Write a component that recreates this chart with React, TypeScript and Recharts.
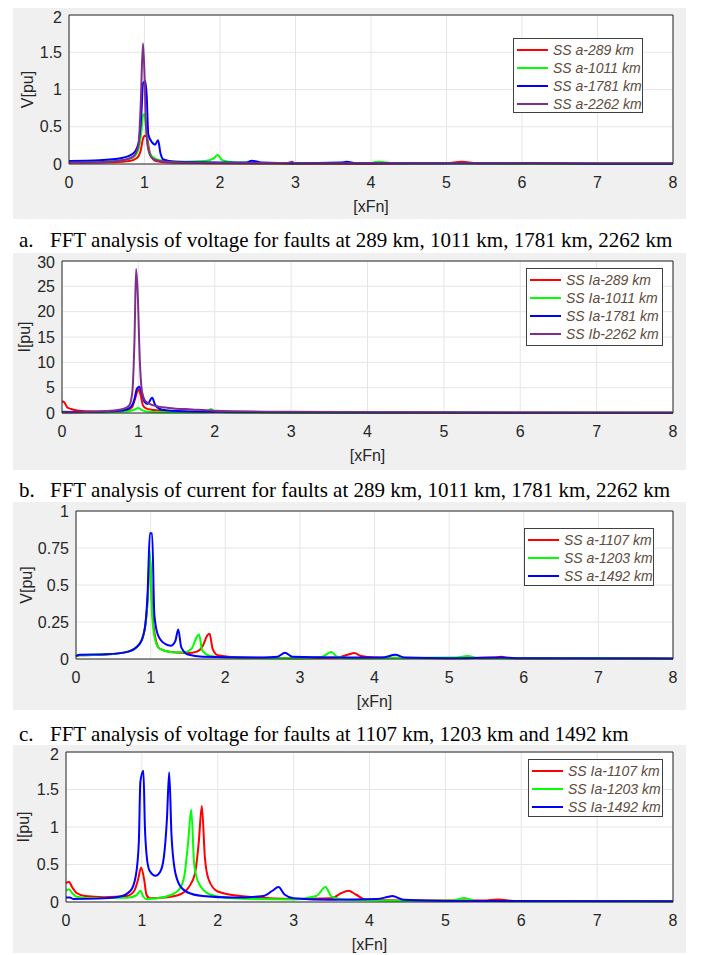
import React from "react";
import {
  LineChart,
  Line,
  XAxis,
  YAxis,
  CartesianGrid,
  Legend,
  ReferenceLine,
} from "recharts";

// x axis is shared by all four panels
const X_TICKS = [0, 1, 2, 3, 4, 5, 6, 7, 8];

const RED = "#ff0000";
const GREEN = "#00ff00";
const BLUE = "#0000ff";
const PURPLE = "#7e2f8e";

// a. voltage, faults at 289 / 1011 / 1781 / 2262 km
const A_NAMES = ["SS a-289 km", "SS a-1011 km", "SS a-1781 km", "SS a-2262 km"];
const A_Y_TICKS = [0, 0.5, 1, 1.5, 2];
const aRed = [[0, 0.02], [0.3, 0.02], [0.6, 0.025], [0.8, 0.04], [0.9, 0.08], [0.95, 0.18], [0.98, 0.34], [1.0, 0.38], [1.03, 0.37], [1.06, 0.2], [1.1, 0.08], [1.15, 0.04], [1.3, 0.02], [2, 0.01], [3, 0.005], [4, 0.005], [5, 0.01], [5.2, 0.03], [5.4, 0.01], [6, 0.005], [8, 0.005]];
const aGreen = [[0, 0.03], [0.4, 0.035], [0.7, 0.05], [0.85, 0.09], [0.92, 0.2], [0.96, 0.45], [0.98, 0.65], [1.0, 0.67], [1.02, 0.5], [1.05, 0.2], [1.1, 0.1], [1.2, 0.05], [1.5, 0.03], [1.8, 0.04], [1.92, 0.08], [1.97, 0.12], [2.03, 0.05], [2.2, 0.02], [3, 0.01], [4.0, 0.015], [4.1, 0.03], [4.3, 0.01], [5, 0.01], [6, 0.005], [8, 0.005]];
const aBlue = [[0, 0.04], [0.4, 0.05], [0.7, 0.08], [0.85, 0.14], [0.92, 0.28], [0.96, 0.7], [0.98, 1.08], [1.01, 1.11], [1.03, 0.9], [1.05, 0.4], [1.1, 0.29], [1.14, 0.26], [1.18, 0.32], [1.21, 0.15], [1.25, 0.06], [1.4, 0.03], [2, 0.02], [2.35, 0.02], [2.42, 0.045], [2.55, 0.02], [3, 0.01], [3.6, 0.02], [3.68, 0.03], [3.8, 0.01], [5, 0.01], [6.1, 0.012], [7, 0.005], [8, 0.005]];
const aPurple = [[0, 0.02], [0.4, 0.025], [0.7, 0.05], [0.85, 0.1], [0.92, 0.25], [0.95, 0.8], [0.98, 1.62], [1.0, 1.2], [1.02, 0.5], [1.05, 0.2], [1.1, 0.08], [1.2, 0.04], [1.5, 0.02], [2, 0.015], [2.9, 0.015], [2.95, 0.03], [3.0, 0.01], [5, 0.01], [8, 0.01]];

// b. current, same faults
const B_NAMES = ["SS Ia-289 km", "SS Ia-1011 km", "SS Ia-1781 km", "SS Ib-2262 km"];
const B_Y_TICKS = [0, 5, 10, 15, 20, 25, 30];
const bRed = [[0, 2.3], [0.03, 2.1], [0.07, 1.1], [0.12, 0.8], [0.2, 0.5], [0.4, 0.3], [0.7, 0.3], [0.85, 0.5], [0.92, 1.2], [0.96, 3], [1.0, 4.7], [1.03, 3.5], [1.06, 1.5], [1.1, 0.9], [1.2, 0.6], [1.4, 0.35], [2, 0.2], [3, 0.1], [5, 0.05], [8, 0.05]];
const bGreen = [[0, 0.3], [0.1, 0.2], [0.5, 0.15], [0.85, 0.3], [0.95, 0.7], [1.0, 1.0], [1.04, 0.6], [1.1, 0.3], [1.3, 0.15], [1.9, 0.15], [1.95, 0.8], [2.0, 0.25], [2.4, 0.1], [3, 0.05], [8, 0.03]];
const bBlue = [[0, 0.2], [0.5, 0.25], [0.8, 0.5], [0.9, 1.2], [0.95, 2.8], [0.98, 4.8], [1.01, 5.2], [1.04, 4.2], [1.08, 2.2], [1.12, 1.8], [1.18, 3.0], [1.22, 1.6], [1.3, 0.7], [1.5, 0.4], [2, 0.25], [3, 0.15], [5, 0.08], [8, 0.05]];
const bPurple = [[0, 0.1], [0.3, 0.2], [0.6, 0.4], [0.8, 0.8], [0.88, 1.5], [0.92, 4], [0.95, 15], [0.97, 28.4], [0.99, 24], [1.02, 10], [1.05, 4], [1.1, 2.2], [1.2, 1.5], [1.4, 1.0], [1.7, 0.7], [2, 0.45], [3, 0.25], [5, 0.12], [8, 0.05]];

// c. voltage, faults at 1107 / 1203 / 1492 km
const C_NAMES = ["SS a-1107 km", "SS a-1203 km", "SS a-1492 km"];
const C_Y_TICKS = [0, 0.25, 0.5, 0.75, 1];
const cRed = [[0, 0.02], [0.05, 0.025], [0.4, 0.03], [0.7, 0.05], [0.85, 0.1], [0.92, 0.2], [0.96, 0.4], [0.99, 0.7], [1.02, 0.35], [1.06, 0.15], [1.12, 0.07], [1.3, 0.045], [1.5, 0.04], [1.62, 0.05], [1.7, 0.09], [1.76, 0.16], [1.79, 0.17], [1.83, 0.07], [1.9, 0.025], [2.2, 0.01], [3, 0.005], [3.5, 0.01], [3.65, 0.03], [3.73, 0.04], [3.82, 0.02], [4, 0.01], [5, 0.005], [5.6, 0.01], [5.7, 0.015], [5.8, 0.005], [7.5, 0.005], [8, 0.002]];
const cGreen = [[0, 0.02], [0.05, 0.025], [0.4, 0.03], [0.7, 0.05], [0.85, 0.1], [0.92, 0.2], [0.96, 0.4], [0.99, 0.73], [1.02, 0.3], [1.06, 0.13], [1.12, 0.07], [1.3, 0.045], [1.45, 0.045], [1.55, 0.07], [1.62, 0.15], [1.65, 0.165], [1.69, 0.06], [1.8, 0.02], [2, 0.01], [3, 0.005], [3.3, 0.015], [3.42, 0.048], [3.5, 0.015], [3.7, 0.005], [5.1, 0.01], [5.25, 0.02], [5.4, 0.005], [7, 0.005], [8, 0.002]];
const cBlue = [[0, 0.02], [0.05, 0.028], [0.4, 0.032], [0.7, 0.05], [0.85, 0.1], [0.92, 0.2], [0.96, 0.45], [0.99, 0.85], [1.02, 0.85], [1.05, 0.3], [1.1, 0.16], [1.2, 0.1], [1.27, 0.09], [1.33, 0.12], [1.37, 0.2], [1.41, 0.08], [1.5, 0.03], [1.7, 0.015], [2.5, 0.01], [2.7, 0.015], [2.8, 0.042], [2.9, 0.015], [3.5, 0.01], [4.1, 0.01], [4.28, 0.028], [4.4, 0.01], [5, 0.005], [5.7, 0.01], [6, 0.005], [8, 0.003]];

// d. current, faults at 1107 / 1203 / 1492 km
const D_NAMES = ["SS Ia-1107 km", "SS Ia-1203 km", "SS Ia-1492 km"];
const D_Y_TICKS = [0, 0.5, 1, 1.5, 2];
const dRed = [[0, 0.25], [0.04, 0.27], [0.08, 0.2], [0.14, 0.12], [0.25, 0.08], [0.5, 0.065], [0.8, 0.08], [0.9, 0.15], [0.95, 0.3], [0.99, 0.46], [1.03, 0.3], [1.06, 0.1], [1.1, 0.05], [1.3, 0.06], [1.5, 0.1], [1.62, 0.2], [1.7, 0.38], [1.75, 0.8], [1.79, 1.28], [1.83, 0.6], [1.88, 0.3], [2, 0.14], [2.3, 0.08], [3, 0.04], [3.5, 0.05], [3.63, 0.12], [3.72, 0.15], [3.82, 0.1], [3.95, 0.03], [4.5, 0.02], [5.5, 0.02], [5.7, 0.035], [5.9, 0.015], [7.5, 0.012], [8, 0.01]];
const dGreen = [[0, 0.15], [0.04, 0.17], [0.08, 0.12], [0.14, 0.07], [0.3, 0.05], [0.8, 0.055], [0.93, 0.09], [0.98, 0.15], [1.02, 0.07], [1.06, 0.04], [1.2, 0.05], [1.4, 0.1], [1.5, 0.18], [1.56, 0.35], [1.61, 0.8], [1.65, 1.23], [1.69, 0.5], [1.75, 0.25], [1.9, 0.1], [2.2, 0.05], [3, 0.035], [3.3, 0.08], [3.42, 0.2], [3.5, 0.07], [3.7, 0.03], [4.5, 0.015], [5.1, 0.02], [5.25, 0.055], [5.4, 0.015], [6, 0.01], [8, 0.01]];
const dBlue = [[0, 0.06], [0.05, 0.06], [0.1, 0.04], [0.4, 0.045], [0.7, 0.07], [0.85, 0.15], [0.92, 0.35], [0.96, 0.8], [0.98, 1.6], [1.02, 1.75], [1.04, 1.0], [1.06, 0.65], [1.1, 0.42], [1.18, 0.35], [1.24, 0.4], [1.29, 0.6], [1.33, 1.1], [1.36, 1.73], [1.39, 0.9], [1.43, 0.45], [1.5, 0.22], [1.6, 0.13], [1.8, 0.08], [2.2, 0.06], [2.6, 0.08], [2.72, 0.15], [2.8, 0.2], [2.88, 0.1], [3, 0.05], [3.5, 0.03], [4.1, 0.04], [4.25, 0.07], [4.3, 0.08], [4.45, 0.03], [5, 0.015], [8, 0.01]];

const FONT = "'Liberation Sans', Arial, Helvetica, sans-serif";
const AXIS = "#262626";
const GREY_LEFT = 13;
const GREY_RIGHT = 686;
const PLOT_RIGHT = 673;

type Series = { name: string; color: string; data: number[][] };

const toPoints = (arr: number[][]) => arr.map(([x, y]) => ({ x, y }));

function LegendBox({ series }: { series: Series[] }) {
  return (
    <div
      style={{
        border: "1px solid #404040",
        background: "#fff",
        boxSizing: "border-box",
        width: "100%",
        height: "100%",
        paddingTop: 2,
      }}
    >
      {series.map((s) => (
        <div key={s.name} style={{ display: "flex", alignItems: "center", height: 18 }}>
          <div style={{ width: 31, height: 2, background: s.color, marginLeft: 3, marginRight: 5 }} />
          <span
            style={{
              fontFamily: FONT,
              fontStyle: "italic",
              fontSize: 14,
              color: "#5e4b3c",
              whiteSpace: "nowrap",
            }}
          >
            {s.name}
          </span>
        </div>
      ))}
    </div>
  );
}

function Panel(props: {
  top: number;
  bottom: number;
  plotLeft: number;
  plotTop: number;
  plotBottom: number;
  yMax: number;
  yTicks: number[];
  yLabel: string;
  yLabelOffset: number;
  series: Series[];
  legend: { left: number; top: number; width: number; height: number };
}) {
  const w = GREY_RIGHT - GREY_LEFT;
  const h = props.bottom - props.top;
  const xAxisH = props.bottom - props.plotBottom;
  return (
    <div
      style={{
        position: "absolute",
        left: GREY_LEFT,
        top: props.top,
        width: w,
        height: h,
        background: "#f0f0f0",
      }}
    >
      <LineChart
        width={w}
        height={h}
        margin={{ top: props.plotTop - props.top, right: GREY_RIGHT - PLOT_RIGHT, left: 0, bottom: 0 }}
      >
        <CartesianGrid stroke="#e6e6e6" fill="#ffffff" fillOpacity={1} />
        <XAxis
          dataKey="x"
          type="number"
          domain={[0, 8]}
          ticks={X_TICKS}
          height={xAxisH}
          stroke={AXIS}
          tickLine={false}
          tickSize={6}
          tickMargin={7}
          tick={{ fill: AXIS, fontSize: 16, fontFamily: FONT }}
          label={{
            value: "[xFn]",
            position: "insideBottom",
            offset: xAxisH - 48,
            fill: AXIS,
            fontSize: 16,
            fontFamily: FONT,
          }}
        />
        <YAxis
          type="number"
          domain={[0, props.yMax]}
          ticks={props.yTicks}
          width={props.plotLeft - GREY_LEFT}
          stroke={AXIS}
          tickLine={false}
          tickSize={6}
          tickMargin={1}
          tick={{ fill: AXIS, fontSize: 16, fontFamily: FONT }}
          label={{
            value: props.yLabel,
            angle: -90,
            position: "insideLeft",
            offset: props.yLabelOffset,
            fill: AXIS,
            fontSize: 16,
            fontFamily: FONT,
            style: { textAnchor: "middle" },
          }}
        />
        <ReferenceLine y={props.yMax} stroke={AXIS} />
        <ReferenceLine x={8} stroke={AXIS} />
        {props.series.map((s) => (
          <Line
            key={s.name}
            data={toPoints(s.data)}
            dataKey="y"
            name={s.name}
            type="monotone"
            stroke={s.color}
            strokeWidth={2}
            dot={false}
            isAnimationActive={false}
          />
        ))}
        <Legend
          layout="vertical"
          align="center"
          verticalAlign="middle"
          content={() => <LegendBox series={props.series} />}
          wrapperStyle={{
            left: props.legend.left,
            top: props.legend.top,
            width: props.legend.width,
            height: props.legend.height,
          }}
        />
      </LineChart>
    </div>
  );
}

function Caption({ top, letter, text }: { top: number; letter: string; text: string }) {
  const style: React.CSSProperties = {
    position: "absolute",
    top,
    fontFamily: "'Liberation Serif', 'Times New Roman', serif",
    fontSize: 21,
    lineHeight: "22px",
    color: "#000",
    whiteSpace: "nowrap",
  };
  return (
    <>
      <div style={{ ...style, left: 19 }}>{letter}</div>
      <div style={{ ...style, left: 50 }}>{text}</div>
    </>
  );
}

export default function App() {
  const seriesA: Series[] = [
    { name: A_NAMES[0], color: RED, data: aRed },
    { name: A_NAMES[1], color: GREEN, data: aGreen },
    { name: A_NAMES[2], color: BLUE, data: aBlue },
    { name: A_NAMES[3], color: PURPLE, data: aPurple },
  ];
  const seriesB: Series[] = [
    { name: B_NAMES[0], color: RED, data: bRed },
    { name: B_NAMES[1], color: GREEN, data: bGreen },
    { name: B_NAMES[2], color: BLUE, data: bBlue },
    { name: B_NAMES[3], color: PURPLE, data: bPurple },
  ];
  const seriesC: Series[] = [
    { name: C_NAMES[0], color: RED, data: cRed },
    { name: C_NAMES[1], color: GREEN, data: cGreen },
    { name: C_NAMES[2], color: BLUE, data: cBlue },
  ];
  const seriesD: Series[] = [
    { name: D_NAMES[0], color: RED, data: dRed },
    { name: D_NAMES[1], color: GREEN, data: dGreen },
    { name: D_NAMES[2], color: BLUE, data: dBlue },
  ];

  return (
    <div style={{ position: "absolute", left: 0, top: 0, width: 701, height: 955, background: "#fff", overflow: "hidden" }}>
      <Panel
        top={8}
        bottom={219}
        plotLeft={69}
        plotTop={15}
        plotBottom={164}
        yMax={2}
        yTicks={A_Y_TICKS}
        yLabel="V[pu]"
        yLabelOffset={14}
        series={seriesA}
        legend={{ left: 500, top: 30, width: 130, height: 75 }}
      />
      <Panel
        top={253}
        bottom={470}
        plotLeft={62}
        plotTop={261}
        plotBottom={413}
        yMax={30}
        yTicks={B_Y_TICKS}
        yLabel="I[pu]"
        yLabelOffset={11}
        series={seriesB}
        legend={{ left: 513, top: 15, width: 137, height: 78 }}
      />
      <Panel
        top={502}
        bottom={710}
        plotLeft={76}
        plotTop={511}
        plotBottom={659}
        yMax={1}
        yTicks={C_Y_TICKS}
        yLabel="V[pu]"
        yLabelOffset={13}
        series={seriesC}
        legend={{ left: 511, top: 26, width: 130, height: 58 }}
      />
      <Panel
        top={745}
        bottom={953}
        plotLeft={66}
        plotTop={752}
        plotBottom={902}
        yMax={2}
        yTicks={D_Y_TICKS}
        yLabel="I[pu]"
        yLabelOffset={10}
        series={seriesD}
        legend={{ left: 515, top: 14, width: 135, height: 58 }}
      />
      <Caption top={229} letter="a." text="FFT analysis of voltage for faults at 289 km, 1011 km, 1781 km, 2262 km" />
      <Caption top={479} letter="b." text="FFT analysis of current for faults at 289 km, 1011 km, 1781 km, 2262 km" />
      <Caption top={723} letter="c." text="FFT analysis of voltage for faults at 1107 km, 1203 km and 1492 km" />
    </div>
  );
}
